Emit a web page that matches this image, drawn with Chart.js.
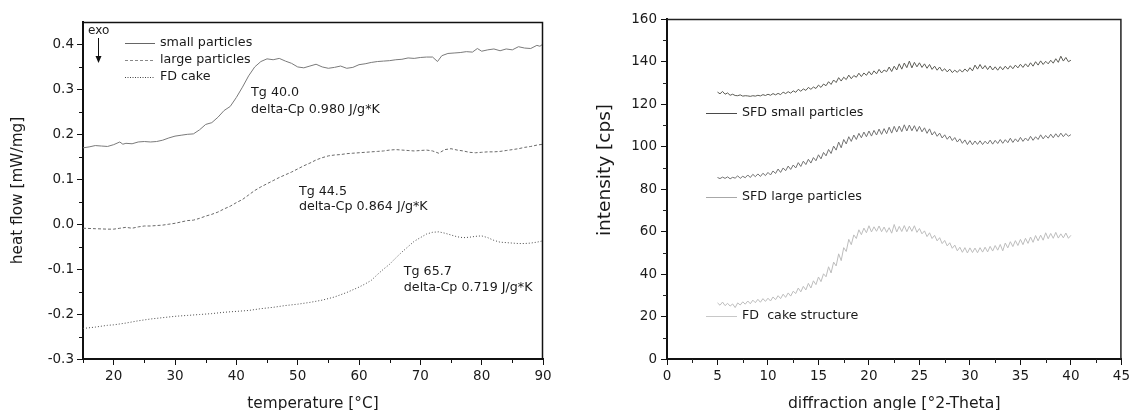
<!DOCTYPE html>
<html>
<head>
<meta charset="utf-8">
<script src="https://cdn.jsdelivr.net/npm/chart.js@4.4.1/dist/chart.umd.min.js"></script>
<style>
  html, body { margin: 0; padding: 0; background: #fff; }
  #wrap { position: relative; width: 1135px; height: 410px; overflow: hidden; }
  #dsc { position: absolute; left: 0; top: 0; }
  #xrd { position: absolute; left: 567px; top: 0; }
</style>
</head>
<body>
<div id="wrap">
  <canvas id="dsc" width="567" height="410"></canvas>
  <canvas id="xrd" width="568" height="410"></canvas>
</div>
<script>
// ---------- DSC: heat flow [mW/mg] vs temperature [°C] ----------
const smallTemp = [15,16,17,18,19,20,21,21.5,22,23,24,25,26,27,28,29,30,31,32,33,34,35,36,37,38,39,40,41,42,43,44,45,46,47,48,49,50,51,52,53,54,55,56,57,58,59,60,61,62,63,64,65,66,67,68,69,70,71,72,72.8,73.5,74.5,75.5,76.5,77.5,78.5,79.3,80,81,82,83,84,85,86,87,88,89,89.5,90];
const smallHeat = [0.170,0.172,0.175,0.174,0.173,0.177,0.183,0.178,0.180,0.179,0.183,0.184,0.183,0.184,0.187,0.192,0.196,0.198,0.200,0.201,0.210,0.222,0.226,0.238,0.253,0.262,0.282,0.305,0.330,0.350,0.362,0.368,0.366,0.369,0.363,0.358,0.350,0.348,0.352,0.356,0.350,0.347,0.349,0.352,0.347,0.349,0.355,0.357,0.360,0.362,0.363,0.364,0.366,0.367,0.370,0.369,0.371,0.372,0.372,0.362,0.375,0.380,0.381,0.382,0.384,0.383,0.391,0.385,0.388,0.390,0.386,0.390,0.388,0.395,0.392,0.391,0.398,0.396,0.401];

const largeTemp = [15,17,19,20,21,22,23,24,25,26,27,28,29,30,31,32,33,34,35,36,37,38,39,40,41,42,43,44,45,46,47,48,49,50,51,52,53,54,55,56,57,58,59,60,61,62,63,64,65,66,67,68,69,70,71,72,73,74,75,76,77,78,79,80,81,82,83,84,85,86,87,88,89,90];
const largeHeat = [-0.009,-0.010,-0.011,-0.011,-0.009,-0.007,-0.009,-0.006,-0.004,-0.004,-0.003,-0.002,0.000,0.002,0.005,0.008,0.009,0.013,0.018,0.022,0.027,0.034,0.040,0.048,0.055,0.065,0.075,0.083,0.090,0.097,0.104,0.110,0.116,0.123,0.130,0.136,0.143,0.148,0.152,0.154,0.155,0.157,0.158,0.159,0.160,0.161,0.162,0.163,0.165,0.166,0.165,0.164,0.163,0.164,0.165,0.163,0.158,0.166,0.168,0.165,0.163,0.160,0.159,0.160,0.161,0.161,0.162,0.164,0.166,0.168,0.171,0.173,0.176,0.178];

const cakeTemp = [15,17,19,20,22,24,26,28,30,32,34,36,38,40,42,44,46,48,50,52,54,56,58,60,61,62,63,64,65,66,67,68,69,70,71,72,73,74,75,76,77,78,79,80,81,82,83,84,85,86,87,88,89,90];
const cakeHeat = [-0.232,-0.229,-0.225,-0.224,-0.220,-0.215,-0.211,-0.208,-0.205,-0.203,-0.201,-0.199,-0.196,-0.194,-0.192,-0.188,-0.185,-0.181,-0.178,-0.174,-0.169,-0.162,-0.152,-0.140,-0.133,-0.125,-0.112,-0.100,-0.089,-0.075,-0.062,-0.050,-0.038,-0.030,-0.022,-0.018,-0.017,-0.020,-0.024,-0.028,-0.030,-0.029,-0.027,-0.026,-0.030,-0.036,-0.040,-0.041,-0.042,-0.043,-0.043,-0.042,-0.040,-0.037];

const dscXTicks = [20,30,40,50,60,70,80,90];
const dscXMinor = [15,25,35,45,55,65,75,85];
const dscYTicks = [-0.3,-0.2,-0.1,0.0,0.1,0.2,0.3,0.4];
const dscYMinor = [-0.25,-0.15,-0.05,0.05,0.15,0.25,0.35];

// ---------- XRD: intensity [cps] vs diffraction angle [°2-Theta], 5–40° every 0.25° ----------
const angleStart = 5;
const angleStep = 0.25;
const sfdSmall = [125.6,124.8,125.9,124.6,125.2,124.1,124.6,124.0,123.9,124.3,123.7,123.9,123.8,123.6,123.9,123.7,124.1,123.8,124.4,124.0,124.6,124.1,124.9,124.3,125.0,124.4,125.6,124.9,125.8,125.1,126.2,125.5,126.9,126.0,127.1,126.4,127.8,126.9,128.0,127.3,128.9,127.8,129.4,128.6,130.5,129.2,131.3,130.1,132.4,130.8,132.6,131.5,133.6,131.9,133.4,132.6,134.5,132.9,134.6,133.5,135.3,133.7,135.6,134.2,136.3,134.6,136.0,135.2,137.4,135.3,137.8,136.0,138.9,136.4,139.3,137.1,140.2,137.0,139.6,137.5,139.4,137.2,138.9,136.8,138.6,136.3,137.8,135.9,137.4,135.5,136.6,135.1,136.4,134.8,135.9,134.9,136.2,135.0,136.5,135.3,137.1,135.6,138.3,136.4,138.6,136.5,138.1,136.2,137.9,136.0,137.5,135.9,137.6,136.1,137.8,136.4,138.0,136.6,138.3,137.0,138.7,137.2,138.9,137.5,139.4,137.8,139.9,138.3,140.3,138.6,140.1,138.9,140.6,139.2,141.3,139.6,142.5,140.2,141.9,139.9,140.6];
const sfdLarge = [85.4,84.9,85.6,85.0,85.7,84.8,85.5,85.1,86.2,85.0,86.0,85.3,86.6,85.4,86.9,85.8,87.1,85.9,87.4,86.3,87.8,86.6,88.5,87.3,89.4,87.8,89.9,88.6,90.8,89.2,91.3,89.9,92.4,90.6,93.1,91.5,94.0,92.2,94.8,93.3,96.1,94.2,97.2,95.6,98.6,96.7,100.2,98.3,102.1,99.4,103.3,101.2,104.6,102.4,105.4,103.3,106.2,104.1,106.8,104.6,107.3,104.9,107.6,105.4,108.2,105.7,108.4,106.0,109.1,106.3,109.5,106.8,109.6,107.0,110.2,107.3,110.1,107.4,109.8,107.1,109.5,106.9,108.8,106.2,108.3,105.4,107.0,104.8,106.3,104.0,105.5,103.4,104.9,102.8,104.2,102.1,103.6,101.5,103.1,100.9,102.8,100.8,102.6,101.0,102.7,100.9,102.5,101.2,103.0,101.1,102.9,101.4,103.3,101.5,103.2,101.8,103.9,101.9,103.6,102.2,104.3,102.4,104.0,102.7,104.8,102.9,104.6,103.3,105.5,103.6,105.2,103.9,105.8,104.1,106.0,104.4,106.3,104.6,106.1,104.8,105.6];
const fdCake = [26.4,25.3,26.8,25.1,26.2,24.9,25.9,24.2,26.4,25.4,26.9,25.8,27.3,26.0,27.7,26.5,28.1,26.7,28.4,27.1,28.6,27.3,29.2,27.9,29.8,28.4,30.5,29.0,31.1,29.6,31.9,30.8,33.4,31.6,34.2,32.5,35.6,33.4,36.8,35.0,38.6,36.4,40.1,38.7,43.4,40.5,45.6,43.8,49.5,46.3,52.4,50.6,56.3,53.8,58.4,56.7,60.8,58.5,61.6,59.4,62.7,59.8,62.2,60.1,62.6,59.9,62.1,59.6,61.8,59.2,63.3,59.8,62.4,60.0,62.8,59.9,62.5,60.1,62.7,59.6,61.4,58.9,60.3,57.6,59.4,56.7,58.2,55.6,57.1,54.3,55.8,53.2,54.7,52.1,53.6,50.9,52.6,50.2,52.4,49.9,52.3,50.1,52.2,50.0,52.4,50.3,52.6,50.4,53.0,50.8,53.4,51.2,53.9,50.9,54.6,52.3,55.2,52.9,55.7,53.4,56.3,53.8,56.8,54.4,57.4,54.9,58.1,55.6,58.3,55.9,59.4,56.6,59.1,56.8,59.6,56.9,58.9,57.0,59.3,56.8,58.2];

const xrdXTicks = [0,5,10,15,20,25,30,35,40,45];
const xrdXMinor = [2.5,7.5,12.5,17.5,22.5,27.5,32.5,37.5,42.5];
const xrdYTicks = [0,20,40,60,80,100,120,140,160];
const xrdYMinor = [10,30,50,70,90,110,130,150];

// ---------- helpers ----------
const FONT = "'DejaVu Sans', Verdana, sans-serif";
Chart.defaults.font.family = FONT;
Chart.defaults.color = '#1a1a1a';

const pairs = (xs, ys) => ys.map((y, i) => ({ x: xs[i], y }));
const angles = arr => arr.map((_, i) => angleStart + i * angleStep);

// short outward ticks between the labelled ones, plus the thin frame on top/right
const framePlugin = {
  id: 'frame',
  afterDraw(chart, args, o) {
    const { ctx, chartArea: a, scales } = chart;
    ctx.save();
    ctx.strokeStyle = o.color;
    ctx.lineWidth = o.frameWidth;
    ctx.beginPath();
    ctx.moveTo(a.left, a.top + 0.5);
    ctx.lineTo(a.right - 0.5, a.top + 0.5);
    ctx.lineTo(a.right - 0.5, a.bottom);
    ctx.stroke();
    ctx.lineWidth = 1;
    ctx.beginPath();
    o.minorX.forEach(v => {
      const px = Math.round(scales.x.getPixelForValue(v)) + 0.5;
      ctx.moveTo(px, a.bottom); ctx.lineTo(px, a.bottom + o.minorLen);
    });
    o.minorY.forEach(v => {
      const py = Math.round(scales.y.getPixelForValue(v)) + 0.5;
      ctx.moveTo(a.left, py); ctx.lineTo(a.left - o.minorLen, py);
    });
    ctx.stroke();
    ctx.restore();
  }
};

// in-plot legend rows, free text notes and an optional rotated side title
const notesPlugin = {
  id: 'notes',
  afterDraw(chart, args, o) {
    const { ctx, scales } = chart;
    ctx.save();
    ctx.font = o.font;
    ctx.fillStyle = '#1a1a1a';
    ctx.textBaseline = 'middle';
    ctx.textAlign = 'left';
    (o.legend || []).forEach(r => {
      ctx.save();
      ctx.strokeStyle = r.color;
      ctx.lineWidth = 1;
      ctx.setLineDash(r.dash || []);
      ctx.beginPath();
      ctx.moveTo(o.lineX0, r.y + 0.5);
      ctx.lineTo(o.lineX1, r.y + 0.5);
      ctx.stroke();
      ctx.restore();
      ctx.fillText(r.text, o.textX, r.y);
    });
    (o.texts || []).forEach(t => {
      ctx.fillText(t.text, scales.x.getPixelForValue(t.x), scales.y.getPixelForValue(t.y));
    });
    if (o.sideTitle) {
      const s = o.sideTitle;
      ctx.save();
      ctx.font = s.font;
      ctx.textAlign = 'center';
      ctx.translate(s.x, s.y);
      ctx.rotate(-Math.PI / 2);
      ctx.fillText(s.text, 0, 0);
      ctx.restore();
    }
    if (o.exo) {
      const e = o.exo;
      ctx.font = o.smallFont;
      ctx.fillText('exo', e.x, e.y);
      ctx.strokeStyle = '#111';
      ctx.fillStyle = '#111';
      ctx.lineWidth = 1;
      ctx.beginPath();
      ctx.moveTo(e.ax + 0.5, e.a0);
      ctx.lineTo(e.ax + 0.5, e.a1 - 5);
      ctx.stroke();
      ctx.beginPath();
      ctx.moveTo(e.ax - 2.5, e.a1 - 7);
      ctx.lineTo(e.ax + 3.5, e.a1 - 7);
      ctx.lineTo(e.ax + 0.5, e.a1);
      ctx.closePath();
      ctx.fill();
    }
    ctx.restore();
  }
};

function axis(opts) {
  return {
    type: 'linear',
    position: opts.position,
    min: opts.min,
    max: opts.max,
    border: { display: true, color: '#111', width: 2 },
    grid: { drawOnChartArea: false, drawTicks: true, tickLength: 6, tickColor: '#111', tickWidth: 1 },
    ticks: { font: { size: 13.5, lineHeight: 1 }, color: '#1a1a1a', padding: opts.padding, callback: opts.fmt },
    title: { display: !!opts.title, text: opts.title || '', font: { size: opts.titleSize, lineHeight: 1 }, color: '#1a1a1a', padding: opts.titlePad },
    afterBuildTicks: s => { s.ticks = opts.ticks.map(v => ({ value: v })); },
    afterFit: s => { if (opts.width) s.width = opts.width; if (opts.height) s.height = opts.height; }
  };
}

// ---------- DSC chart ----------
new Chart(document.getElementById('dsc'), {
  type: 'line',
  data: {
    datasets: [
      { label: 'small particles', data: pairs(smallTemp, smallHeat), borderColor: '#7a7a7a', borderWidth: 1 },
      { label: 'large particles', data: pairs(largeTemp, largeHeat), borderColor: '#6a6a6a', borderWidth: 1, borderDash: [3, 2] },
      { label: 'FD cake', data: pairs(cakeTemp, cakeHeat), borderColor: '#4a4a4a', borderWidth: 1, borderDash: [1, 2] }
    ]
  },
  options: {
    responsive: false,
    animation: false,
    elements: { point: { radius: 0 }, line: { tension: 0 } },
    layout: { padding: { left: 0, right: 24, top: 22, bottom: 0 } },
    scales: {
      x: axis({ position: 'bottom', min: 15, max: 90, ticks: dscXTicks, fmt: v => String(v), padding: 5,
                title: 'temperature [°C]', titleSize: 15.3, titlePad: { top: 0, bottom: -1.5 }, height: 51 }),
      y: axis({ position: 'left', min: -0.3, max: 0.45, ticks: dscYTicks, fmt: v => v.toFixed(1), padding: 3,
                title: 'heat flow [mW/mg]', titleSize: 15.3, titlePad: { top: 10.5, bottom: 0 }, width: 83 })
    },
    plugins: {
      legend: { display: false },
      tooltip: { enabled: false },
      frame: { color: '#111', frameWidth: 1.5, minorX: dscXMinor, minorY: dscYMinor, minorLen: 4 },
      notes: {
        font: '12.7px ' + FONT,
        smallFont: '12px ' + FONT,
        lineX0: 125, lineX1: 155, textX: 160,
        legend: [
          { text: 'small particles', y: 43, color: '#666' },
          { text: 'large particles', y: 60, color: '#888', dash: [3, 2] },
          { text: 'FD cake', y: 77, color: '#444', dash: [1, 1.5] }
        ],
        texts: [
          { text: 'Tg 40.0', x: 42.4, y: 0.293 },
          { text: 'delta-Cp 0.980 J/g*K', x: 42.4, y: 0.254 },
          { text: 'Tg 44.5', x: 50.2, y: 0.073 },
          { text: 'delta-Cp 0.864 J/g*K', x: 50.2, y: 0.038 },
          { text: 'Tg 65.7', x: 67.3, y: -0.106 },
          { text: 'delta-Cp 0.719 J/g*K', x: 67.3, y: -0.142 }
        ],
        exo: { x: 88, y: 31, ax: 98, a0: 38, a1: 63 }
      }
    }
  },
  plugins: [framePlugin, notesPlugin]
});

// ---------- XRD chart ----------
new Chart(document.getElementById('xrd'), {
  type: 'line',
  data: {
    datasets: [
      { label: 'SFD small particles', data: pairs(angles(sfdSmall), sfdSmall), borderColor: '#5c5c55', borderWidth: 1 },
      { label: 'SFD large particles', data: pairs(angles(sfdLarge), sfdLarge), borderColor: '#727272', borderWidth: 1 },
      { label: 'FD  cake structure', data: pairs(angles(fdCake), fdCake), borderColor: '#bdbdbd', borderWidth: 1 }
    ]
  },
  options: {
    responsive: false,
    animation: false,
    elements: { point: { radius: 0 }, line: { tension: 0 } },
    layout: { padding: { left: 0, right: 8, top: 19, bottom: 0 } },
    scales: {
      x: axis({ position: 'bottom', min: 0, max: 45, ticks: xrdXTicks, fmt: v => String(v), padding: 5,
                title: 'diffraction angle [°2-Theta]', titleSize: 15.7, titlePad: { top: 0, bottom: -1.5 }, height: 51 }),
      y: axis({ position: 'left', min: 0, max: 160, ticks: xrdYTicks, fmt: v => String(v), padding: 4, width: 100 })
    },
    plugins: {
      legend: { display: false },
      tooltip: { enabled: false },
      frame: { color: '#222', frameWidth: 1.5, minorX: xrdXMinor, minorY: xrdYMinor, minorLen: 4 },
      notes: {
        font: '12.7px ' + FONT,
        lineX0: 139, lineX1: 170, textX: 175,
        legend: [
          { text: 'SFD small particles', y: 113, color: '#4a4a4a' },
          { text: 'SFD large particles', y: 197, color: '#a8a8a8' },
          { text: 'FD  cake structure', y: 316, color: '#c8c8c8' }
        ],
        sideTitle: { text: 'intensity [cps]', x: 38, y: 170, font: '18.5px ' + FONT }
      }
    }
  },
  plugins: [framePlugin, notesPlugin]
});
</script>
</body>
</html>
